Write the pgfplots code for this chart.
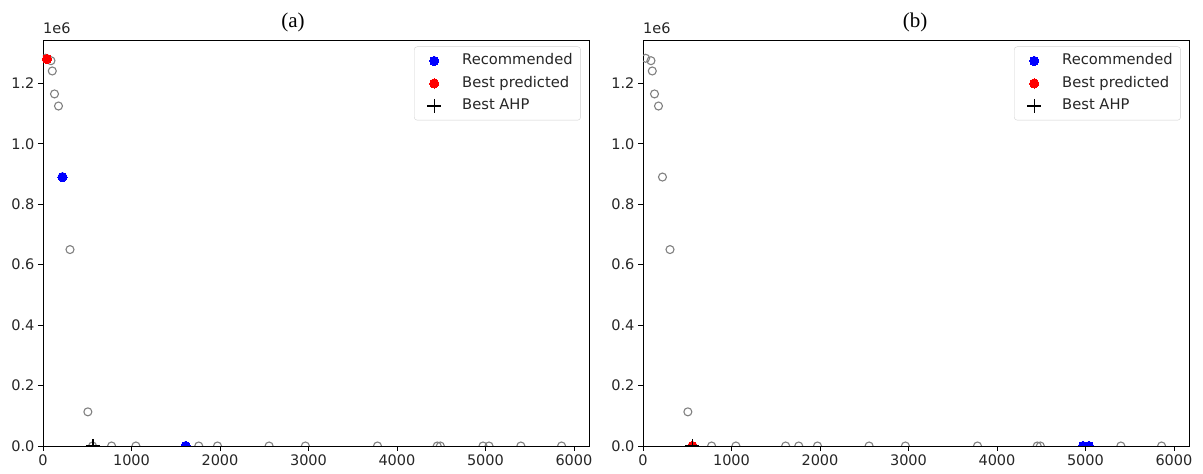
\documentclass[border=0pt]{standalone}
\usepackage{pgfplots}
\pgfplotsset{compat=1.18}
\usepackage{pgfplotstable}
\usepackage{fontspec}
\setmainfont{DejaVu Sans}
\newfontfamily\titlefont{Liberation Serif}

\pgfplotstableread{
x y
30 1283000
90 1275000
105 1241000
130 1165000
175 1125000
220 890000
305 650000
507 113000
560 0
775 0
1050 0
1612 0
1760 0
1972 0
2555 0
2965 0
3780 0
4455 0
4490 0
4972 0
5040 0
5400 0
5860 0
}\candidates

\pgfplotsset{
  myax/.style={
    scale only axis, width=546pt, height=406pt,
    xmin=0, xmax=6170, ymin=0, ymax=1343500,
    xtick={0,1000,2000,3000,4000,5000,6000},
    ytick={0,200000,400000,600000,800000,1000000,1200000},
    yticklabels={0.0,0.2,0.4,0.6,0.8,1.0,1.2},
    scaled x ticks=false, scaled y ticks=false,
    /pgf/number format/1000 sep={},
    /pgf/number format/assume math mode=true,
    tick label style={font=\fontsize{14.5}{17}\selectfont, black!85},
    tick align=outside, tick pos=left,
    major tick length=5pt,
    axis line style={line width=0.9pt},
    every tick/.style={line width=0.9pt, black},
    clip marker paths=true,
    legend style={at={(0.985,0.984)}, anchor=north east, draw=black!18, rounded corners=3pt,
      font=\fontsize{14.7}{17.6}\selectfont, row sep=4pt, inner xsep=6pt, inner ysep=5pt, text=black!85,
      nodes={inner sep=2pt, text height=11pt, text depth=3.5pt}},
    legend cell align=left,
    legend image code/.code={\path[draw=none, fill=none] (0pt,-4pt) (40pt,4pt); \draw[#1] plot coordinates {(14pt,0pt)};},
    gray/.style={only marks, mark=o, mark size=4pt, mark options={draw=black!50, line width=1.1pt}},
    rec/.style={only marks, mark=*, mark size=4.6pt, mark options={draw=blue, fill=blue, line width=0pt}},
    best/.style={only marks, mark=*, mark size=4.6pt, mark options={draw=red, fill=red, line width=0pt}},
    ahp/.style={only marks, mark=+, mark size=7pt, mark options={draw=black, line width=1.4pt}},
  }
}

\begin{document}
\begin{tikzpicture}
\path (0,0) rectangle (1203pt,474pt);
\begin{axis}[myax, name=A, at={(43pt,28pt)}, anchor=south west]
\addplot[gray, forget plot] table {\candidates};
\addplot[rec] coordinates {(220,890000) (1612,0)};
\addlegendentry{Recommended}
\addplot[best] coordinates {(45,1281000)};
\addlegendentry{Best predicted}
\addplot[ahp] coordinates {(565,0)};
\addlegendentry{Best AHP}
\end{axis}
\begin{axis}[myax, name=B, at={(643pt,28pt)}, anchor=south west]
\addplot[gray, forget plot] table {\candidates};
\addplot[rec] coordinates {(4972,0) (5040,0)};
\addlegendentry{Recommended}
\addplot[best] coordinates {(558,0)};
\addlegendentry{Best predicted}
\addplot[ahp] coordinates {(558,0)};
\addlegendentry{Best AHP}
\end{axis}
\foreach \ax in {A,B} {
  \node[anchor=base west, inner sep=0pt, font=\fontsize{14.5}{17}\selectfont, text=black!85] at ([yshift=6pt]\ax.north west) {1e6};
}
\node[anchor=base, inner sep=0pt, font=\titlefont\fontsize{21}{24}\selectfont] at (293pt,446pt) {(a)};
\node[anchor=base, inner sep=0pt, font=\titlefont\fontsize{21}{24}\selectfont] at (915pt,446pt) {(b)};
\end{tikzpicture}
\end{document}
